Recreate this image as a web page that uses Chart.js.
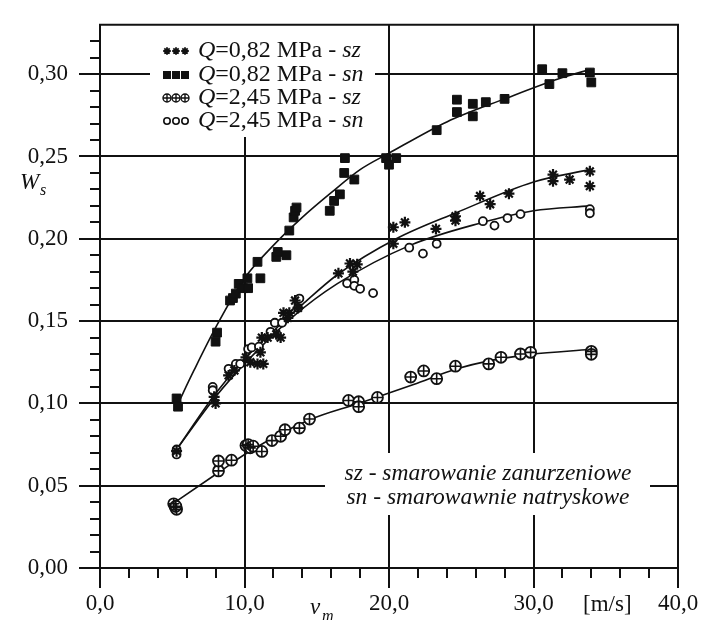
<!DOCTYPE html>
<html><head><meta charset="utf-8">
<script src="https://cdn.jsdelivr.net/npm/chart.js@4.4.1/dist/chart.umd.min.js"></script>
<style>html,body{margin:0;padding:0;background:#fff}#wrap{width:706px;height:620px;position:relative}</style>
</head><body><div id="wrap"><canvas id="c" width="706" height="620"></canvas></div>
<script>
// ---- tick values / labels ----
const xTickValues = [0, 10, 20, 30, 40];
const xTickLabels = ['0,0', '10,0', '20,0', '30,0', '40,0'];
const yTickValues = [0, 0.05, 0.10, 0.15, 0.20, 0.25, 0.30];
const yTickLabels = ['0,00', '0,05', '0,10', '0,15', '0,20', '0,25', '0,30'];
const xMinorTicks = [2, 4, 6, 8, 12, 14, 16, 18, 22, 24, 26, 28, 32, 34, 36, 38];
const yMinorTicks = [0.01,0.02,0.03,0.04,0.06,0.07,0.08,0.09,0.11,0.12,0.13,0.14,0.16,0.17,0.18,0.19,0.21,0.22,0.23,0.24,0.26,0.27,0.28,0.29,0.31,0.32];

// ---- legend texts ----
const legendPressure = ['0,82', '0,82', '2,45', '2,45'];
const legendMode = ['sz', 'sn', 'sz', 'sn'];
const noteLines = ['sz - smarowanie zanurzeniowe', 'sn - smarowawnie natryskowe'];

// ---- measured points [v_m, W_s] ----
const sz082 = [[5.3,0.071],[7.9,0.104],[8.0,0.100],[8.9,0.117],[9.3,0.120],[10.1,0.128],[10.4,0.125],[10.9,0.124],[11.3,0.124],[11.1,0.131],[11.2,0.140],[11.6,0.140],[12.2,0.142],[12.5,0.140],[12.7,0.155],[13.1,0.155],[13.0,0.152],[13.5,0.1625],[13.7,0.158],[16.5,0.179],[17.3,0.185],[17.8,0.1845],[17.5,0.180],[20.3,0.207],[21.1,0.210],[20.3,0.197],[23.25,0.206],[24.6,0.2137],[24.6,0.211],[26.3,0.226],[27.0,0.221],[28.3,0.2274],[31.35,0.239],[31.35,0.235],[32.5,0.236],[33.9,0.241],[33.9,0.232]];
const sn082 = [[5.3,0.103],[5.4,0.098],[8.0,0.1375],[8.1,0.143],[9.0,0.1625],[9.2,0.164],[9.4,0.1667],[9.6,0.1726],[9.9,0.170],[10.2,0.176],[10.25,0.170],[10.9,0.186],[11.1,0.176],[12.2,0.189],[12.3,0.192],[12.9,0.190],[13.1,0.205],[13.4,0.213],[13.5,0.217],[13.6,0.219],[15.9,0.217],[16.2,0.223],[16.6,0.227],[16.9,0.240],[16.95,0.249],[17.6,0.236],[19.8,0.249],[20.0,0.245],[20.5,0.249],[23.3,0.266],[24.7,0.2845],[24.7,0.277],[25.8,0.282],[25.8,0.2744],[26.7,0.283],[28.0,0.285],[30.6,0.303],[31.1,0.294],[32.0,0.3006],[33.9,0.301],[34.0,0.295]];
const sz245 = [[5.1,0.039],[5.2,0.037],[5.3,0.0357],[5.25,0.0375],[8.2,0.059],[8.2,0.065],[9.1,0.0655],[10.1,0.0744],[10.25,0.075],[10.4,0.073],[10.6,0.074],[11.2,0.0708],[11.9,0.0774],[12.5,0.080],[12.8,0.084],[13.8,0.085],[14.5,0.0905],[17.2,0.1018],[17.9,0.101],[17.9,0.098],[19.2,0.1036],[21.5,0.116],[22.4,0.1197],[23.3,0.115],[24.6,0.1226],[26.9,0.124],[27.75,0.128],[29.1,0.130],[29.8,0.131],[34.0,0.1316],[34.0,0.1298]];
const sn245 = [[5.3,0.072],[5.3,0.069],[7.8,0.110],[7.8,0.108],[8.9,0.121],[9.4,0.124],[9.7,0.124],[10.25,0.133],[10.5,0.134],[11.0,0.1345],[11.8,0.1435],[12.1,0.149],[12.6,0.149],[13.7,0.158],[13.8,0.1637],[17.1,0.173],[17.6,0.175],[17.6,0.1714],[18.0,0.1696],[18.9,0.167],[21.4,0.1946],[22.35,0.191],[23.3,0.197],[26.5,0.2107],[27.3,0.208],[28.2,0.2126],[29.1,0.215],[33.9,0.218],[33.9,0.2155]];

// ---- fitted curves ----
const fitSz082 = [[5.3,0.072],[8,0.106],[10,0.127],[12,0.144],[14,0.160],[16.4,0.178],[20.5,0.200],[24.7,0.216],[30,0.2345],[33.9,0.242]];
const fitSn082 = [[5.3,0.098],[6.5,0.120],[8,0.146],[10,0.176],[12,0.196],[14,0.213],[16,0.228],[18,0.242],[20,0.252],[24,0.271],[28,0.285],[32,0.298],[34,0.303]];
const fitSz245 = [[5.2,0.040],[8.2,0.058],[10.2,0.070],[14.5,0.090],[17.9,0.100],[21.7,0.1115],[24.7,0.121],[27,0.126],[29.8,0.1298],[33.9,0.1327]];
const fitSn245 = [[5.3,0.072],[8,0.104],[10,0.124],[13.4,0.153],[16.4,0.1726],[21.45,0.196],[26.3,0.2095],[30,0.217],[33.9,0.220]];

const INK = '#111';
const SERIF = '"Liberation Serif", "Times New Roman", serif';
const toPts = a => a.map(p => ({x: p[0], y: p[1]}));

function pointSet(data, style, radius, bw, bg) {
  return {data: toPts(data), showLine: false, pointStyle: style, pointRadius: radius,
    pointHoverRadius: radius, borderColor: INK, backgroundColor: bg, borderWidth: bw, pointBorderWidth: bw};
}
function lineSet(data) {
  return {data: toPts(data), showLine: true, pointRadius: 0, borderColor: INK, borderWidth: 1.6,
    tension: 0.4, cubicInterpolationMode: 'monotone', fill: false};
}

const deco = {
  id: 'deco',
  beforeDatasetsDraw(chart) {
    const ctx = chart.ctx;
    ctx.save();
    ctx.fillStyle = '#fff';
    ctx.fillRect(150, 25, 225, 112);   // legend area interrupts the grid
    ctx.fillRect(325, 453, 325, 62);   // note area interrupts the grid
    ctx.restore();
  },
  afterDraw(chart) {
    const ctx = chart.ctx;
    const xs = chart.scales.x, ys = chart.scales.y;
    const a = chart.chartArea;
    ctx.save();
    ctx.strokeStyle = INK; ctx.lineWidth = 2;
    // top frame
    ctx.beginPath(); ctx.moveTo(a.left - 1, a.top); ctx.lineTo(a.right + 1, a.top); ctx.stroke();
    // minor ticks
    ctx.beginPath();
    xMinorTicks.forEach(v => { const px = Math.round(xs.getPixelForValue(v)); ctx.moveTo(px, a.bottom); ctx.lineTo(px, a.bottom + 10); });
    yMinorTicks.forEach(v => { const py = Math.round(ys.getPixelForValue(v)); ctx.moveTo(a.left - 10, py); ctx.lineTo(a.left, py); });
    ctx.stroke();

    // legend
    const rowsY = [51, 75, 98, 121];
    const symX = [167, 176, 185];
    ctx.textBaseline = 'middle';
    rowsY.forEach((y, i) => {
      symX.forEach(x => {
        ctx.strokeStyle = INK; ctx.fillStyle = INK;
        if (i === 0) {
          ctx.lineWidth = 1.8;
          ctx.beginPath();
          for (let k = 0; k < 4; k++) { const an = k * Math.PI / 4; ctx.moveTo(x - 3.8 * Math.cos(an), y - 3.8 * Math.sin(an)); ctx.lineTo(x + 3.8 * Math.cos(an), y + 3.8 * Math.sin(an)); }
          ctx.stroke();
        } else if (i === 1) {
          ctx.fillRect(x - 4, y - 4, 8, 8);
        } else if (i === 2) {
          ctx.beginPath(); ctx.arc(x, y, 4, 0, 2 * Math.PI);
          ctx.fillStyle = '#fff'; ctx.fill(); ctx.lineWidth = 1.4; ctx.stroke();
          ctx.beginPath(); ctx.moveTo(x - 4, y); ctx.lineTo(x + 4, y); ctx.moveTo(x, y - 4); ctx.lineTo(x, y + 4); ctx.stroke();
        } else {
          ctx.beginPath(); ctx.arc(x, y, 3.2, 0, 2 * Math.PI);
          ctx.fillStyle = '#fff'; ctx.fill(); ctx.lineWidth = 1.6; ctx.stroke();
        }
      });
      let tx = 198;
      ctx.fillStyle = INK;
      ctx.font = 'italic 24px ' + SERIF;
      ctx.fillText('Q', tx, y); tx += ctx.measureText('Q').width;
      ctx.font = '24px ' + SERIF;
      const mid = '=' + legendPressure[i] + ' MPa - ';
      ctx.fillText(mid, tx, y); tx += ctx.measureText(mid).width;
      ctx.font = 'italic 24px ' + SERIF;
      ctx.fillText(legendMode[i], tx, y);
    });

    // note
    ctx.textAlign = 'center';
    ctx.font = 'italic 23.5px ' + SERIF;
    ctx.fillText(noteLines[0], 488, 474);
    ctx.fillText(noteLines[1], 488, 498);

    // axis titles
    ctx.textAlign = 'left';
    ctx.font = 'italic 23px ' + SERIF;
    ctx.fillText('W', 20, 183);
    ctx.font = 'italic 16px ' + SERIF;
    ctx.fillText('s', 40, 191);
    ctx.font = 'italic 23px ' + SERIF;
    ctx.fillText('v', 310, 608);
    ctx.font = 'italic 16px ' + SERIF;
    ctx.fillText('m', 322, 617);
    ctx.font = '23px ' + SERIF;
    ctx.fillText('[m/s]', 583, 605);
    ctx.restore();
  }
};

new Chart(document.getElementById('c'), {
  type: 'scatter',
  data: {
    datasets: [
      pointSet(sz082, 'star', 5.5, 2.2, INK),
      pointSet(sn082, 'rect', 6.2, 1, INK),
      pointSet(sz245, 'cross', 5.5, 1.6, INK),
      pointSet(sz245, 'circle', 5.5, 1.8, '#fff'),
      pointSet(sn245, 'circle', 4, 1.8, '#fff'),
      lineSet(fitSz082),
      lineSet(fitSn082),
      lineSet(fitSz245),
      lineSet(fitSn245)
    ]
  },
  options: {
    responsive: false,
    animation: false,
    events: [],
    layout: {padding: {top: 16, right: 28, left: 0, bottom: 0}},
    plugins: {legend: {display: false}, tooltip: {enabled: false}},
    scales: {
      x: {
        type: 'linear', min: 0, max: 40,
        afterBuildTicks: s => { s.ticks = xTickValues.map(v => ({value: v})); },
        afterFit: s => { s.height = 52; },
        ticks: {callback: (v) => xTickLabels[xTickValues.indexOf(v)], color: INK, padding: 2,
          font: {family: SERIF, size: 23}, maxRotation: 0, autoSkip: false},
        grid: {color: INK, lineWidth: 2, tickLength: 20, tickColor: INK, tickWidth: 2},
        border: {display: true, color: INK, width: 2}
      },
      y: {
        type: 'linear', min: 0, max: 0.33,
        afterBuildTicks: s => { s.ticks = yTickValues.map(v => ({value: v})); },
        afterFit: s => { s.width = 100; },
        ticks: {callback: (v) => yTickLabels[yTickValues.findIndex(t => Math.abs(t - v) < 1e-9)], color: INK, padding: 11,
          font: {family: SERIF, size: 23}, autoSkip: false},
        grid: {color: INK, lineWidth: 2, tickLength: 21, tickColor: INK, tickWidth: 2},
        border: {display: true, color: INK, width: 2}
      }
    }
  },
  plugins: [deco]
});
</script>
</body></html>
